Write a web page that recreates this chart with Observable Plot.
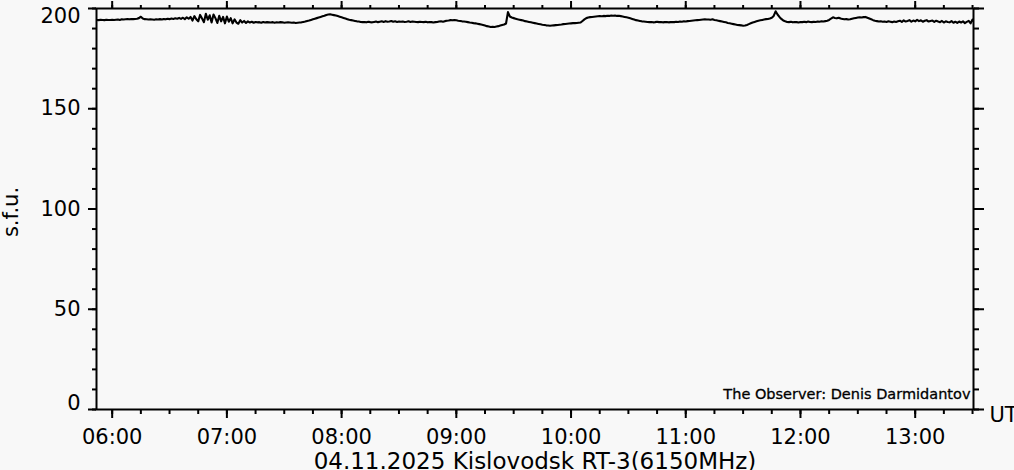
<!DOCTYPE html>
<html>
<head>
<meta charset="utf-8">
<script src="https://cdn.jsdelivr.net/npm/d3@7"></script>
<script src="https://cdn.jsdelivr.net/npm/@observablehq/plot@0.6"></script>
<style>
  html, body { margin: 0; padding: 0; background: #f8f8f8; }
  #chart { width: 1014px; height: 470px; overflow: hidden; }
  svg { display: block; }
</style>
</head>
<body>
<div id="chart"></div>
<script>
// ---- data ----
const dateLabel = "04.11.2025 Kislovodsk RT-3(6150MHz)";
const observer = "The Observer: Denis Darmidantov";
const yTitle = "s.f.u.";
const xUnit = "UT";
const hourLabels = ["06:00","07:00","08:00","09:00","10:00","11:00","12:00","13:00"];
const yMajor = [0, 50, 100, 150, 200];
const yMinor = [0,10,20,30,40,50,60,70,80,90,100,110,120,130,140,150,160,170,180,190,200];
// one sample per minute, first sample at 05:52 UT
const firstSample = "05:52";
const sfu = [
  194.3,194.2,194.4,194.3,194.2,194.4,194.3,194.3,194.4,194.3, // 05:52
  194.4,194.5,194.3,194.6,194.5,194.6,194.7,194.6,194.8,194.7, // 06:02
  194.8,194.9,195.2,195.9,195.0,194.7,194.6,194.5,194.6,194.5, // 06:12
  194.4,194.6,194.5,194.7,194.5,194.8,194.6,194.9,194.7,195.0, // 06:22
  194.8,195.1,194.9,195.3,194.8,195.4,194.7,195.6,194.9,195.8, // 06:32
  194.0,196.2,194.6,193.6,196.8,195.0,193.2,197.4,194.4,196.6, // 06:42
  193.0,197.0,195.2,192.8,196.4,193.6,195.8,192.6,196.0,193.4, // 06:52
  195.2,192.6,194.6,193.0,192.4,194.2,193.0,193.8,192.8,193.6, // 07:02
  193.0,193.4,192.9,193.3,193.1,193.2,192.9,193.3,193.0,193.2, // 07:12
  193.1,193.0,193.2,192.9,193.1,193.0,193.2,193.1,192.9,193.0, // 07:22
  193.1,193.0,192.9,193.0,192.8,192.9,193.0,193.1,193.3,193.5, // 07:32
  193.8,194.0,194.3,194.6,194.9,195.2,195.5,195.8,196.1,196.4, // 07:42
  196.8,197.0,197.1,196.9,196.7,196.5,196.2,195.9,195.6,195.3, // 07:52
  195.0,194.7,194.4,194.2,194.0,193.8,193.6,193.5,193.3,193.2, // 08:02
  193.3,193.1,193.4,193.2,193.1,193.3,193.5,193.2,193.4,193.6, // 08:12
  193.3,193.7,193.4,193.5,193.8,193.4,193.6,193.3,193.5,193.4, // 08:22
  193.5,193.3,193.4,193.6,193.3,193.5,193.4,193.3,193.2,193.4, // 08:32
  193.3,193.2,193.4,193.1,193.3,193.2,193.0,193.2,193.3,193.5, // 08:42
  193.6,193.4,193.7,193.9,194.0,194.2,194.1,194.3,194.1,193.9, // 08:52
  193.8,193.6,193.5,193.4,193.2,193.0,192.9,192.7,192.6,192.4, // 09:02
  192.2,192.0,191.8,191.5,191.2,191.0,190.8,190.9,190.8,191.0, // 09:12
  191.2,191.5,191.8,192.0,192.5,198.2,196.0,195.5,195.2,194.9, // 09:22
  194.6,194.4,194.2,194.0,193.7,193.5,193.3,193.1,192.9,192.7, // 09:32
  192.5,192.3,192.1,191.9,191.8,191.6,191.5,191.4,191.5,191.6, // 09:42
  191.7,191.8,191.9,192.0,192.2,192.3,192.4,192.5,192.6,192.7, // 09:52
  192.7,192.8,192.9,193.0,193.8,194.6,195.2,195.5,195.7,195.8, // 10:02
  195.9,196.0,196.1,196.2,196.1,196.3,196.2,196.4,196.3,196.5, // 10:12
  196.4,196.5,196.3,196.4,196.2,196.0,195.8,195.6,195.4,195.1, // 10:22
  194.8,194.5,194.2,194.0,193.8,193.6,193.5,193.4,193.3,193.2, // 10:32
  193.3,193.1,193.2,193.4,193.2,193.3,193.1,193.2,193.3,193.1, // 10:42
  193.2,193.3,193.2,193.4,193.3,193.5,193.4,193.6,193.5,193.7, // 10:52
  193.8,193.9,194.0,194.1,194.2,194.3,194.4,194.5,194.6,194.5, // 11:02
  194.5,194.4,194.6,194.3,194.1,193.9,193.7,193.5,193.3,193.1, // 11:12
  192.8,192.6,192.4,192.2,192.0,191.8,191.7,191.6,191.4,191.5, // 11:22
  191.8,192.2,192.6,193.0,193.3,193.6,193.9,194.1,194.3,194.5, // 11:32
  194.7,194.8,195.0,195.4,196.3,198.6,197.0,195.8,194.8,194.0, // 11:42
  193.6,193.3,193.2,193.4,193.1,193.3,193.2,193.0,193.3,193.2, // 11:52
  193.4,193.2,193.5,193.3,193.2,193.4,193.3,193.5,193.4,193.6, // 12:02
  193.5,193.7,193.9,194.3,195.0,195.6,195.3,195.1,195.4,195.0, // 12:12
  194.8,194.6,194.7,194.5,194.6,194.9,195.1,195.3,195.5,195.6, // 12:22
  195.5,195.7,195.8,195.4,195.0,194.6,194.2,193.9,193.7,193.5, // 12:32
  193.6,193.4,193.5,193.3,193.6,193.4,193.2,193.5,193.3,193.6, // 12:42
  193.9,193.3,194.1,193.5,193.8,194.2,193.4,194.0,193.6,194.3, // 12:52
  193.7,194.1,193.4,193.9,194.2,193.5,193.8,194.0,193.3,193.9, // 13:02
  193.5,193.2,193.8,193.0,193.6,193.3,193.1,193.7,192.9,193.4, // 13:12
  192.8,193.5,193.0,193.6,192.7,193.3,193.8,192.6,194.5,193.2  // 13:22
];
const xStart = "05:51:48";
const xEnd = "13:30:30";

// ---- build ----
const day = "2025-11-04T";
const toDate = s => new Date(day + (s.length === 5 ? s + ":00" : s) + "Z");
const t0 = toDate(firstSample);
const series = sfu.map((v, i) => ({t: d3.utcMinute.offset(t0, i), v}));
const xDomain = [toDate(xStart), toDate(xEnd)];
const xMajor = hourLabels.map(toDate);
const xMinor = d3.utcMinute.every(15).range(xDomain[0], xDomain[1]);
const fmt = d3.utcFormat("%H:%M");
const FONT = "DejaVu Sans";
const empty = () => "";
const tickOpts = {tickFormat: empty, strokeWidth: 2, label: null};

const chart = Plot.plot({
  width: 1014,
  height: 470,
  marginLeft: 96,
  marginRight: 41,
  marginTop: 8,
  marginBottom: 61,
  style: {background: "#f8f8f8", fontFamily: FONT, color: "#000"},
  x: {type: "utc", domain: xDomain, axis: null},
  y: {domain: [0, 200], axis: null},
  marks: [
    Plot.line(series, {x: "t", y: "v", stroke: "#000", strokeWidth: 2.1, clip: true}),
    Plot.frame({stroke: "#000", strokeWidth: 2}),
    // y ticks left / right
    Plot.axisY({anchor: "left", ticks: yMinor, tickSize: 4, ...tickOpts}),
    Plot.axisY({anchor: "left", ticks: yMajor, tickSize: 8, ...tickOpts}),
    Plot.axisY({anchor: "right", ticks: yMinor, tickSize: 5, ...tickOpts}),
    Plot.axisY({anchor: "right", ticks: yMajor, tickSize: 10, ...tickOpts}),
    // x ticks bottom / top
    Plot.axisX({anchor: "bottom", ticks: xMinor, tickSize: 5, ...tickOpts}),
    Plot.axisX({anchor: "bottom", ticks: xMajor, tickSize: 9, tickPadding: 11, tickFormat: fmt,
      strokeWidth: 2, label: null, fontSize: 21, fill: "#000"}),
    Plot.axisX({anchor: "top", ticks: xMinor, tickSize: 4, ...tickOpts}),
    Plot.axisX({anchor: "top", ticks: xMajor, tickSize: 8, ...tickOpts}),
    // y tick labels
    Plot.text(yMajor.filter(d => d > 0 && d < 200), {y: d => d, text: d => String(d), frameAnchor: "left",
      textAnchor: "end", dx: -16, fontSize: 21, fill: "#000"}),
    Plot.text(yMajor.filter(d => d === 200), {y: d => d, text: d => String(d), frameAnchor: "left",
      textAnchor: "end", dx: -16, dy: 8, fontSize: 21, fill: "#000"}),
    Plot.text(yMajor.filter(d => d === 0), {y: d => d, text: d => String(d), frameAnchor: "left",
      textAnchor: "end", dx: -16, dy: -6.5, fontSize: 21, fill: "#000"}),
    // titles
    Plot.text([yTitle], {frameAnchor: "left", dx: -85, dy: 3, rotate: -90, textAnchor: "middle",
      fontSize: 21, fill: "#000"}),
    Plot.text([dateLabel], {frameAnchor: "bottom", dy: 59, fontSize: 23, fill: "#000"}),
    Plot.text([observer], {frameAnchor: "bottom-right", textAnchor: "end", dx: -3, dy: -10.5,
      fontSize: 14.5, fill: "#000", stroke: "#000", strokeWidth: 0.3}),
    Plot.text([xUnit], {frameAnchor: "bottom-right", textAnchor: "start", dx: 16, dy: 12,
      fontSize: 21, fill: "#000"})
  ]
});
document.getElementById("chart").appendChild(chart);
</script>
</body>
</html>
